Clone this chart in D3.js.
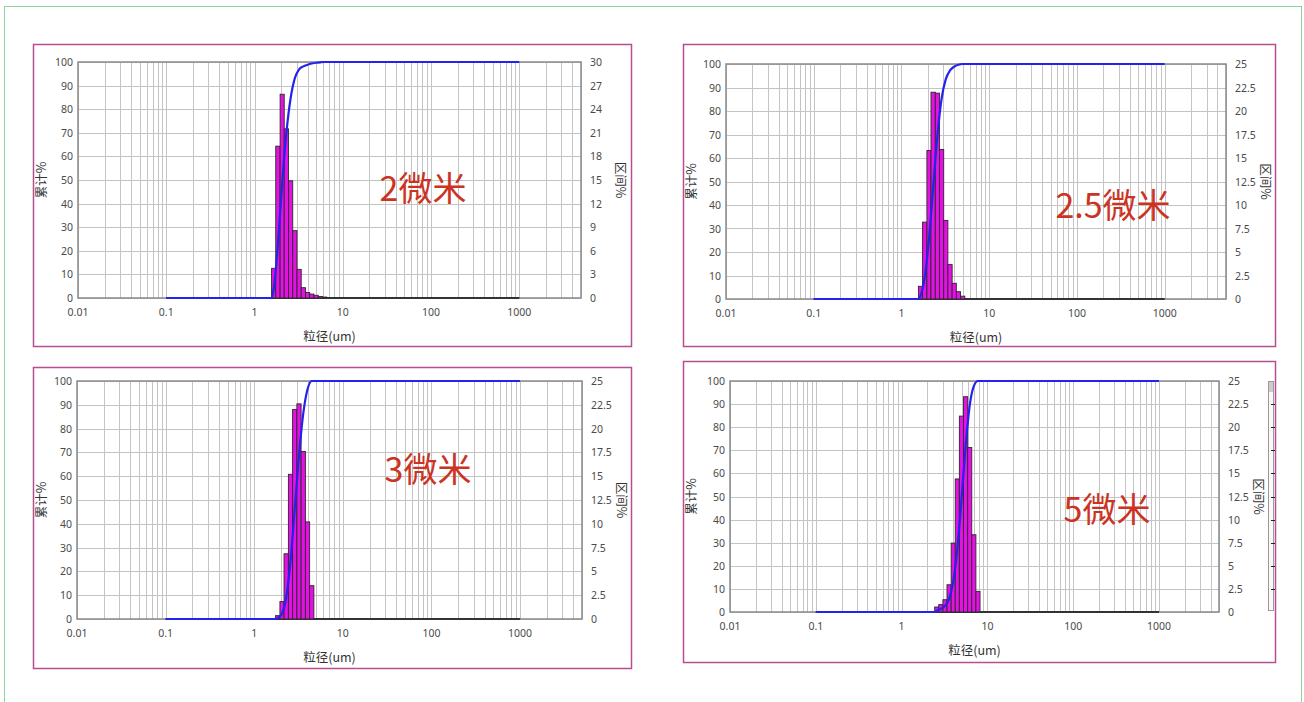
<!DOCTYPE html>
<html>
<head>
<meta charset="utf-8">
<script src="https://cdn.jsdelivr.net/npm/d3@7"></script>
<style>
    body { margin: 0; background: #fff; }
    svg { display: block; }
    .tick-label { font-family: "Noto Sans", "Open Sans", sans-serif; font-size: 10.5px; fill: #4a4a4a; }
    .axis-title { font-family: "Noto Sans CJK SC", sans-serif; font-size: 12.5px; fill: #333; }
    .big-label { font-family: "Noto Sans CJK SC", sans-serif; font-size: 34px; fill: #cc3322; }
</style>
</head>
<body>
<svg id="chart" width="1304" height="702"></svg>
<script>
/*
    Size classes of the analyser (um), the edges of the histogram bins
 */
var sizeClasses = [1.56, 1.74, 1.95, 2.17, 2.43, 2.71, 3.03, 3.38, 3.78, 4.22, 4.71, 5.27, 5.89, 6.57, 7.34, 8.20, 9.16];

/*
    Tick labels
 */
var xTickValues = [0.01, 0.1, 1, 10, 100, 1000];
var xTickLabels = ["0.01", "0.1", "1", "10", "100", "1000"];
var leftTicks = [0, 10, 20, 30, 40, 50, 60, 70, 80, 90, 100];
var rightTicks30 = [0, 3, 6, 9, 12, 15, 18, 21, 24, 27, 30];
var rightTicks25 = [0, 2.5, 5, 7.5, 10, 12.5, 15, 17.5, 20, 22.5, 25];

/*
    Range measured by the instrument (um) - the cumulative line runs over it
 */
var measuredRange = [0.1, 1000];

/*
    The four samples: name, first size class, interval % per class
 */
var sampleNames = ["2微米", "2.5微米", "3微米", "5微米"];
var firstClass = [0, 0, 1, 4];
var interval2 = [3.77, 19.3, 25.9, 21.5, 14.9, 8.56, 3.64, 1.31, 0.7, 0.5, 0.34, 0.2, 0.12];
var interval25 = [1.35, 8.18, 15.8, 22.0, 21.9, 15.9, 8.36, 3.66, 1.67, 0.78, 0.3];
var interval3 = [0.35, 1.83, 6.85, 15.2, 22.0, 22.6, 17.6, 10.2, 3.5];
var interval5 = [0.54, 0.8, 1.33, 2.95, 7.46, 14.4, 21.2, 23.3, 17.8, 8.36, 2.23];
var intervals = [interval2, interval25, interval3, interval5];
var rightTicks = [rightTicks30, rightTicks25, rightTicks25, rightTicks25];

/*
    Layout of the panels on the page
 */
var panels = [
    {box: [33, 44, 598, 302], plot: [78, 581, 62, 298], label: [423, 189]},
    {box: [683, 44, 592, 302], plot: [726, 1226, 64, 299], label: [1113, 206]},
    {box: [33, 367, 598, 301], plot: [77, 582, 381, 619], label: [428, 470]},
    {box: [683, 361, 592, 301], plot: [730, 1219, 381, 612], label: [1107, 510]}
];

var svg = d3.select("#chart");

// outer frame
svg.append("rect")
    .attr("x", 4.5).attr("y", 6.5)
    .attr("width", 1297).attr("height", 720)
    .attr("fill", "none")
    .attr("stroke", "#8fd3a0");

/*
    Draws one particle size panel
 */
var drawPanel = function (i) {

    var p = panels[i];
    var values = intervals[i];
    var rTicks = rightTicks[i];

    var g = svg.append("g");

    g.append("rect")
        .attr("x", p.box[0] + 0.5).attr("y", p.box[1] + 0.5)
        .attr("width", p.box[2]).attr("height", p.box[3])
        .attr("fill", "#fff")
        .attr("stroke", "#b84e92")
        .attr("stroke-width", 1.5);

    var x = d3.scaleLog().domain([0.01, 5000]).range([p.plot[0], p.plot[1]]);
    var yLeft = d3.scaleLinear().domain([0, 100]).range([p.plot[3], p.plot[2]]);
    var yRight = d3.scaleLinear().domain([0, rTicks[rTicks.length - 1]]).range([p.plot[3], p.plot[2]]);

    // grid
    g.selectAll(".vgrid")
        .data(x.ticks())
        .enter().append("line")
        .attr("x1", function (d) { return Math.round(x(d)) + 0.5; })
        .attr("x2", function (d) { return Math.round(x(d)) + 0.5; })
        .attr("y1", p.plot[2]).attr("y2", p.plot[3])
        .attr("stroke", "#c4c4c4");

    g.selectAll(".hgrid")
        .data(leftTicks)
        .enter().append("line")
        .attr("x1", p.plot[0]).attr("x2", p.plot[1])
        .attr("y1", function (d) { return Math.round(yLeft(d)) + 0.5; })
        .attr("y2", function (d) { return Math.round(yLeft(d)) + 0.5; })
        .attr("stroke", "#c4c4c4");

    g.append("rect")
        .attr("x", p.plot[0]).attr("y", p.plot[2])
        .attr("width", p.plot[1] - p.plot[0]).attr("height", p.plot[3] - p.plot[2])
        .attr("fill", "none")
        .attr("stroke", "#8a8a8a")
        .attr("stroke-width", 1.5);

    // zero-height classes across the measured range
    g.append("line")
        .attr("x1", x(measuredRange[0])).attr("x2", x(measuredRange[1]))
        .attr("y1", yLeft(0)).attr("y2", yLeft(0))
        .attr("stroke", "#333")
        .attr("stroke-width", 2);

    // histogram
    var bins = values.map(function (v, k) {
        return {lo: sizeClasses[firstClass[i] + k], hi: sizeClasses[firstClass[i] + k + 1], v: v};
    });

    g.selectAll(".bar")
        .data(bins)
        .enter().append("rect")
        .attr("x", function (d) { return x(d.lo); })
        .attr("width", function (d) { return x(d.hi) - x(d.lo); })
        .attr("y", function (d) { return yRight(d.v); })
        .attr("height", function (d) { return yRight(0) - yRight(d.v); })
        .attr("fill", "#e410e4")
        .attr("stroke", "#2a2a2a")
        .attr("stroke-width", 0.9);

    // cumulative line
    var total = d3.sum(values);
    var sum = 0;
    var cum = [{s: measuredRange[0], c: 0}, {s: bins[0].lo, c: 0}];
    bins.forEach(function (d) {
        sum += d.v;
        cum.push({s: Math.sqrt(d.lo * d.hi), c: sum / total * 100});
    });
    cum.push({s: bins[bins.length - 1].hi, c: 100});
    cum.push({s: measuredRange[1], c: 100});

    g.append("path")
        .datum(cum)
        .attr("fill", "none")
        .attr("stroke", "#2323ec")
        .attr("stroke-width", 2.2)
        .attr("d", d3.line()
            .curve(d3.curveMonotoneX)
            .x(function (d) { return x(d.s); })
            .y(function (d) { return yLeft(d.c); }));

    // tick labels
    g.selectAll(".xl")
        .data(xTickValues)
        .enter().append("text")
        .attr("class", "tick-label")
        .attr("x", function (d) { return x(d); })
        .attr("y", p.plot[3] + 18)
        .attr("text-anchor", "middle")
        .text(function (d, k) { return xTickLabels[k]; });

    g.selectAll(".yl")
        .data(leftTicks)
        .enter().append("text")
        .attr("class", "tick-label")
        .attr("x", p.plot[0] - 5)
        .attr("y", function (d) { return yLeft(d) + 4; })
        .attr("text-anchor", "end")
        .text(function (d) { return d; });

    g.selectAll(".yr")
        .data(rTicks)
        .enter().append("text")
        .attr("class", "tick-label")
        .attr("x", p.plot[1] + 9)
        .attr("y", function (d) { return yRight(d) + 4; })
        .text(function (d) { return d; });

    // axis titles
    var midY = (p.plot[2] + p.plot[3]) / 2;

    g.append("text")
        .attr("class", "axis-title")
        .attr("text-anchor", "middle")
        .attr("x", (p.plot[0] + p.plot[1]) / 2)
        .attr("y", p.plot[3] + 43)
        .text("粒径(um)");

    g.append("text")
        .attr("class", "axis-title")
        .attr("text-anchor", "middle")
        .attr("transform", "translate(" + (p.box[0] + 13) + "," + midY + ") rotate(-90)")
        .text("累计%");

    g.append("text")
        .attr("class", "axis-title")
        .attr("text-anchor", "middle")
        .attr("transform", "translate(" + (p.plot[1] + 35) + "," + midY + ") rotate(90)")
        .text("区间%");

    g.append("text")
        .attr("class", "big-label")
        .attr("text-anchor", "middle")
        .attr("x", p.label[0])
        .attr("y", p.label[1] + 12)
        .text(sampleNames[i]);

    return yRight;
};

for (var i = 0; i < panels.length; i++) {
    var yR = drawPanel(i);

    // the clipped scroll bar at the right edge of the last panel
    if (i === 3) {
        svg.append("rect")
            .attr("x", 1268.5).attr("y", 381.5)
            .attr("width", 5).attr("height", 229)
            .attr("fill", "#fafafa")
            .attr("stroke", "#999");
        svg.append("rect")
            .attr("x", 1269).attr("y", 382)
            .attr("width", 4).attr("height", 10)
            .attr("fill", "#ccc");
        svg.selectAll(".sb")
            .data(rightTicks25.slice(1, 10))
            .enter().append("line")
            .attr("x1", 1271).attr("x2", 1275)
            .attr("y1", function (d) { return Math.round(yR(d)) + 0.5; })
            .attr("y2", function (d) { return Math.round(yR(d)) + 0.5; })
            .attr("stroke", "#222");
    }
}
</script>
</body>
</html>
